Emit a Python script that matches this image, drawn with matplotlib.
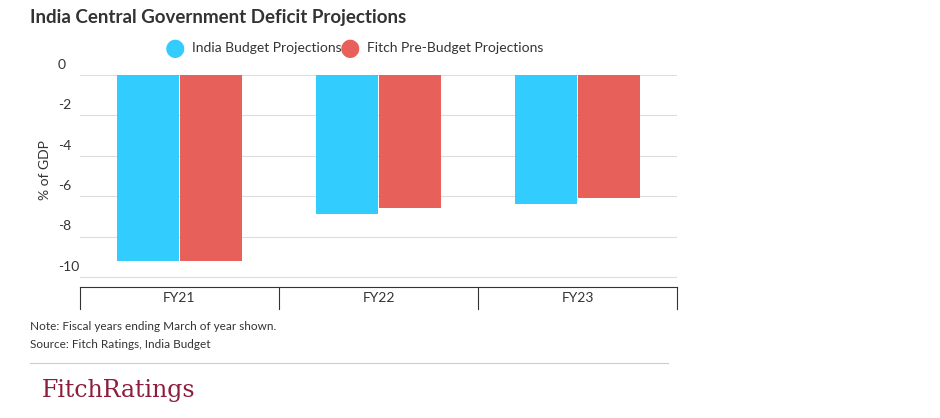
import matplotlib.pyplot as plt
import numpy as np

# data
years = ["FY21", "FY22", "FY23"]
budget = [-9.2, -6.9, -6.4]
fitch = [-9.2, -6.6, -6.1]
y_ticks = [0, -2, -4, -6, -8, -10]

BLUE = "#33ccff"
RED = "#e8605a"
GREY = "#333333"

fig = plt.figure(figsize=(9.4, 4.18), dpi=100)
ax = fig.add_axes([80 / 940, 1 - 287 / 418, 597 / 940, 212 / 418])

x = np.arange(len(years))
w = 0.31
ax.bar(x - 0.157, budget, w, color=BLUE, zorder=3)
ax.bar(x + 0.157, fitch, w, color=RED, zorder=3)

ax.set_xlim(-0.5, len(years) - 0.5)
ax.set_ylim(-10.5, 0)
for t in y_ticks:
    ax.axhline(t, color="#dddddd", lw=0.8, zorder=1)
    ax.text(-0.61, t + 0.2, str(t), ha="left", va="bottom", fontsize=10,
            color=GREY, family="Lato", transform=ax.transData, clip_on=False)
ax.set_yticks([])
ax.set_xticks([])
for s in ["left", "right", "top"]:
    ax.spines[s].set_visible(False)
ax.spines["bottom"].set_color(GREY)
ax.spines["bottom"].set_linewidth(0.8)

# category band below axis
for i in range(len(years) + 1):
    ax.plot([i - 0.5, i - 0.5], [-10.5, -11.6], color=GREY, lw=0.8, clip_on=False)
for i, yr in enumerate(years):
    ax.text(i, -11.05, yr, ha="center", va="center", fontsize=10, color=GREY, family="Lato")

fig.text(45 / 940, 1 - 170 / 418, "% of GDP", rotation=90, ha="center", va="center",
         fontsize=10, color=GREY, family="Lato")

fig.text(30 / 940, 1 - 18 / 418, "India Central Government Deficit Projections", ha="left",
         va="center", fontsize=13.5, fontweight="bold", color=GREY, family="Lato")

# legend
fig.patches.append(plt.Circle((175 / 940, 1 - 48 / 418), 0.0, color=BLUE))
fig.text(175 / 940, 1 - 48 / 418, "\u25cf", color=BLUE, fontsize=17, ha="center", va="center",
         family="DejaVu Sans")
fig.text(192 / 940, 1 - 48 / 418, "India Budget Projections", fontsize=10, color=GREY,
         ha="left", va="center", family="Lato")
fig.text(350 / 940, 1 - 48 / 418, "\u25cf", color=RED, fontsize=17, ha="center", va="center",
         family="DejaVu Sans")
fig.text(367 / 940, 1 - 48 / 418, "Fitch Pre-Budget Projections", fontsize=10, color=GREY,
         ha="left", va="center", family="Lato")

fig.text(30 / 940, 1 - 327 / 418, "Note: Fiscal years ending March of year shown.", fontsize=8.5,
         color=GREY, ha="left", va="center", family="Lato")
fig.text(30 / 940, 1 - 345 / 418, "Source: Fitch Ratings, India Budget", fontsize=8.5,
         color=GREY, ha="left", va="center", family="Lato")
fig.add_artist(plt.Line2D([30 / 940, 668 / 940], [1 - 363 / 418] * 2, color="#cccccc", lw=0.8))
fig.text(42 / 940, 1 - 390 / 418, "FitchRatings", fontsize=17, color="#8c1d3c",
         ha="left", va="center", family="DejaVu Serif")

fig.savefig("out.png", dpi=100)
